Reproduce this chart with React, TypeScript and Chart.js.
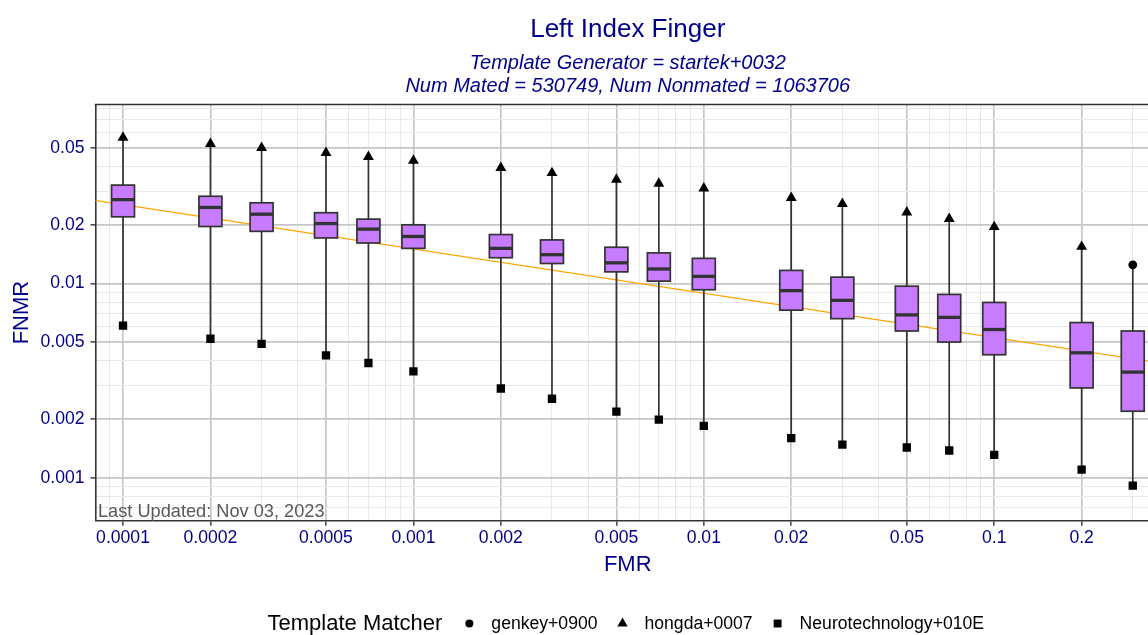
import React, { useEffect, useRef } from 'react';
import { Chart, registerables } from 'chart.js';

Chart.register(...registerables);

const FONT = '"Liberation Sans", Arial, Helvetica, sans-serif';
const BLUE = '#00008B';
const MAJOR_GRID = '#C6C6C6';
const MINOR_GRID = '#E8E8E8';
const DARK = '#333333';
const BOX_FILL = '#C77CFF';

const chartTitle = 'Left Index Finger';
const subtitleLines = ['Template Generator = startek+0032', 'Num Mated = 530749, Num Nonmated = 1063706'];
const xAxisTitle = 'FMR';
const yAxisTitle = 'FNMR';
const footnote = 'Last Updated: Nov 03, 2023';
const legendTitle = 'Template Matcher';
const matchers = ['genkey+0900', 'hongda+0007', 'Neurotechnology+010E'];
const matcherShapes = ['circle', 'triangle', 'rect'];

// Box plot data (FNMR at each FMR operating point)
const fmr = [0.0001, 0.0002, 0.0003, 0.0005, 0.0007, 0.001, 0.002, 0.003, 0.005, 0.007, 0.01, 0.02, 0.03, 0.05, 0.07, 0.1, 0.2, 0.3];
const whiskerHigh = [0.0566, 0.0525, 0.0501, 0.0472, 0.045, 0.0431, 0.0395, 0.0372, 0.0344, 0.0328, 0.031, 0.0277, 0.0258, 0.0233, 0.0216, 0.0196, 0.0155, 0.0125];
const q3 = [0.0322, 0.0282, 0.0261, 0.0232, 0.0215, 0.0201, 0.0179, 0.0168, 0.0154, 0.0144, 0.0135, 0.0117, 0.0108, 0.0097, 0.0088, 0.008, 0.0063, 0.0057];
const median = [0.0271, 0.0247, 0.0228, 0.0204, 0.0191, 0.0175, 0.0152, 0.0141, 0.0128, 0.0119, 0.0109, 0.0092, 0.0082, 0.0069, 0.0067, 0.0058, 0.0044, 0.0035];
const q1 = [0.0221, 0.0197, 0.0186, 0.0172, 0.0162, 0.0152, 0.0136, 0.0127, 0.0115, 0.0103, 0.0093, 0.0073, 0.0066, 0.0057, 0.005, 0.0043, 0.0029, 0.0022];
const whiskerLow = [0.00607, 0.0052, 0.00489, 0.00427, 0.0039, 0.00353, 0.00288, 0.00255, 0.00219, 0.00199, 0.00185, 0.0016, 0.00148, 0.00143, 0.00138, 0.00131, 0.0011, 0.00091];
// index into matchers: which matcher gives the max / min FNMR
const maxMatcher = [1, 1, 1, 1, 1, 1, 1, 1, 1, 1, 1, 1, 1, 1, 1, 1, 1, 0];
const minMatcher = [2, 2, 2, 2, 2, 2, 2, 2, 2, 2, 2, 2, 2, 2, 2, 2, 2, 2];

// Trend line
const trendFmr = [0.00005, 0.5];
const trendFnmr = [0.0299, 0.00365];

const xTickValues = [0.0001, 0.0002, 0.0005, 0.001, 0.002, 0.005, 0.01, 0.02, 0.05, 0.1, 0.2];
const xTickLabels = ['0.0001', '0.0002', '0.0005', '0.001', '0.002', '0.005', '0.01', '0.02', '0.05', '0.1', '0.2'];
const yTickValues = [0.001, 0.002, 0.005, 0.01, 0.02, 0.05];
const yTickLabels = ['0.001', '0.002', '0.005', '0.01', '0.02', '0.05'];

const X_MIN = 8.04e-5;
const X_MAX = 0.3723;
const Y_MIN = 0.000603;
const Y_MAX = 0.0838;
const BOX_HALF_DECADES = 0.0395;

function gridValues(min: number, max: number): number[] {
  const out: number[] = [];
  for (let e = Math.floor(Math.log10(min)); e <= Math.ceil(Math.log10(max)); e++) {
    for (let m = 1; m <= 9; m++) {
      const v = parseFloat((m * Math.pow(10, e)).toPrecision(6));
      if (v > min && v < max) out.push(v);
    }
  }
  return out;
}

function majorIndex(v: number | undefined, list: number[]): number {
  if (v === undefined || v === null) return -1;
  for (let i = 0; i < list.length; i++) {
    if (Math.abs(Math.log10(v) - Math.log10(list[i])) < 1e-6) return i;
  }
  return -1;
}

const boxPlugin = {
  id: 'boxes',
  afterDatasetDraw(chart: any, args: any) {
    if (args.index !== 0) return;
    const { ctx, scales } = chart;
    const xs = scales.x;
    const ys = scales.y;
    ctx.save();
    for (let i = 0; i < fmr.length; i++) {
      const cx = xs.getPixelForValue(fmr[i]);
      const l = xs.getPixelForValue(fmr[i] / Math.pow(10, BOX_HALF_DECADES));
      const r = xs.getPixelForValue(fmr[i] * Math.pow(10, BOX_HALF_DECADES));
      const yHi = ys.getPixelForValue(whiskerHigh[i]);
      const yLo = ys.getPixelForValue(whiskerLow[i]);
      const yQ3 = ys.getPixelForValue(q3[i]);
      const yQ1 = ys.getPixelForValue(q1[i]);
      const yMed = ys.getPixelForValue(median[i]);
      ctx.strokeStyle = DARK;
      ctx.lineWidth = 1.7;
      ctx.beginPath();
      ctx.moveTo(cx, yHi);
      ctx.lineTo(cx, yLo);
      ctx.stroke();
      ctx.fillStyle = BOX_FILL;
      ctx.fillRect(l, yQ3, r - l, yQ1 - yQ3);
      ctx.strokeRect(l, yQ3, r - l, yQ1 - yQ3);
      ctx.lineWidth = 3.3;
      ctx.beginPath();
      ctx.moveTo(l, yMed);
      ctx.lineTo(r, yMed);
      ctx.stroke();
    }
    ctx.restore();
  },
};

function drawShape(ctx: CanvasRenderingContext2D, shape: string, x: number, y: number, r: number) {
  ctx.beginPath();
  if (shape === 'circle') {
    ctx.arc(x, y, r, 0, Math.PI * 2);
  } else if (shape === 'triangle') {
    ctx.moveTo(x, y - r);
    ctx.lineTo(x + r * Math.sin((2 * Math.PI) / 3), y + r / 2);
    ctx.lineTo(x - r * Math.sin((2 * Math.PI) / 3), y + r / 2);
    ctx.closePath();
  } else {
    const s = r * Math.SQRT1_2;
    ctx.rect(x - s, y - s, 2 * s, 2 * s);
  }
  ctx.fill();
}

const textPlugin = {
  id: 'texts',
  afterDraw(chart: any) {
    const { ctx, chartArea } = chart;
    const cx = (chartArea.left + chartArea.right) / 2;
    ctx.save();
    // top panel border
    ctx.strokeStyle = DARK;
    ctx.lineWidth = 1.6;
    ctx.beginPath();
    ctx.moveTo(chartArea.left - 0.8, chartArea.top);
    ctx.lineTo(chartArea.right, chartArea.top);
    ctx.stroke();

    ctx.textBaseline = 'alphabetic';
    ctx.fillStyle = BLUE;
    ctx.textAlign = 'center';
    ctx.font = `26px ${FONT}`;
    ctx.fillText(chartTitle, cx, 37);
    ctx.font = `italic 20px ${FONT}`;
    ctx.fillText(subtitleLines[0], cx, 68.5);
    ctx.fillText(subtitleLines[1], cx, 91.5);

    ctx.font = `22px ${FONT}`;
    ctx.fillText(xAxisTitle, cx, 571);
    ctx.save();
    ctx.translate(28, (chartArea.top + chartArea.bottom) / 2);
    ctx.rotate(-Math.PI / 2);
    ctx.fillText(yAxisTitle, 0, 0);
    ctx.restore();

    ctx.textAlign = 'left';
    ctx.fillStyle = '#595959';
    ctx.font = `18.2px ${FONT}`;
    ctx.fillText(footnote, chartArea.left + 2.5, 517);

    // legend
    ctx.fillStyle = '#000000';
    ctx.font = `22px ${FONT}`;
    const tw = ctx.measureText(legendTitle).width;
    ctx.font = `17.6px ${FONT}`;
    const ws = matchers.map((m) => ctx.measureText(m).width);
    const gapTitle = 27;
    const gapMarker = 22;
    const gapItem = 25;
    let total = tw + gapTitle;
    ws.forEach((w, i) => {
      total += gapMarker + w + (i < ws.length - 1 ? gapItem : 0);
    });
    let x = cx - total / 2 - 2;
    const ly = 630;
    ctx.font = `22px ${FONT}`;
    ctx.fillText(legendTitle, x, ly);
    x += tw + gapTitle;
    ctx.font = `17.6px ${FONT}`;
    const legendR = [4, 6, 5.6];
    matchers.forEach((m, i) => {
      drawShape(ctx, matcherShapes[i], x, 623.5, legendR[i]);
      ctx.fillText(m, x + gapMarker, ly - 1);
      x += gapMarker + ws[i] + gapItem;
    });
    ctx.restore();
  },
};

export default function App() {
  const canvasRef = useRef<HTMLCanvasElement | null>(null);

  useEffect(() => {
    const canvas = canvasRef.current;
    if (!canvas) return;

    const pointRadius = [4.4, 6.3, 5.9];
    const markerSets = matchers.map((name, mi) => {
      const pts: { x: number; y: number }[] = [];
      fmr.forEach((f, i) => {
        if (maxMatcher[i] === mi) pts.push({ x: f, y: whiskerHigh[i] });
        if (minMatcher[i] === mi) pts.push({ x: f, y: whiskerLow[i] });
      });
      return {
        type: 'scatter' as const,
        label: name,
        data: pts,
        pointStyle: matcherShapes[mi],
        pointRadius: pointRadius[mi],
        backgroundColor: '#000000',
        borderColor: '#000000',
        borderWidth: 0,
        showLine: false,
        order: 0,
      };
    });

    const xGrid = gridValues(X_MIN, X_MAX);
    const yGrid = gridValues(Y_MIN, Y_MAX);

    const chart = new Chart(canvas, {
      type: 'scatter',
      data: {
        datasets: [
          {
            type: 'scatter',
            label: 'trend',
            data: trendFmr.map((f, i) => ({ x: f, y: trendFnmr[i] })),
            showLine: true,
            borderColor: '#FFA500',
            borderWidth: 1.3,
            pointRadius: 0,
            order: 10,
          } as any,
          ...markerSets,
        ],
      },
      options: {
        animation: false,
        responsive: false,
        devicePixelRatio: 1,
        events: [],
        layout: { padding: { left: 0, top: 104.5, right: 40, bottom: 84.3 } },
        plugins: {
          legend: { display: false },
          title: { display: false },
          tooltip: { enabled: false },
        },
        scales: {
          x: {
            type: 'logarithmic',
            position: 'bottom',
            min: X_MIN,
            max: X_MAX,
            afterBuildTicks: (s: any) => {
              s.ticks = xGrid.map((v) => ({ value: v }));
            },
            afterFit: (s: any) => {
              s.height = 30;
            },
            border: { display: true, color: DARK, width: 1.6 },
            grid: {
              drawTicks: true,
              tickLength: 5,
              color: (c: any) => (majorIndex(c.tick?.value, xTickValues) >= 0 ? MAJOR_GRID : MINOR_GRID),
              lineWidth: (c: any) => (majorIndex(c.tick?.value, xTickValues) >= 0 ? 1.7 : 1),
              tickColor: (c: any) => (majorIndex(c.tick?.value, xTickValues) >= 0 ? DARK : 'rgba(0,0,0,0)'),
              tickWidth: 1.4,
            },
            ticks: {
              autoSkip: false,
              maxRotation: 0,
              minRotation: 0,
              padding: 2,
              color: BLUE,
              font: { family: FONT, size: 17.6 },
              callback: (v: any) => {
                const k = majorIndex(Number(v), xTickValues);
                return k >= 0 ? xTickLabels[k] : '';
              },
            },
          },
          y: {
            type: 'logarithmic',
            position: 'left',
            min: Y_MIN,
            max: Y_MAX,
            afterBuildTicks: (s: any) => {
              s.ticks = yGrid.map((v) => ({ value: v }));
            },
            afterFit: (s: any) => {
              s.width = 95.5;
            },
            border: { display: true, color: DARK, width: 1.6 },
            grid: {
              drawTicks: true,
              tickLength: 5,
              color: (c: any) => (majorIndex(c.tick?.value, yTickValues) >= 0 ? MAJOR_GRID : MINOR_GRID),
              lineWidth: (c: any) => (majorIndex(c.tick?.value, yTickValues) >= 0 ? 1.7 : 1),
              tickColor: (c: any) => (majorIndex(c.tick?.value, yTickValues) >= 0 ? DARK : 'rgba(0,0,0,0)'),
              tickWidth: 1.4,
            },
            ticks: {
              autoSkip: false,
              padding: 6,
              color: BLUE,
              font: { family: FONT, size: 17.6 },
              callback: (v: any) => {
                const k = majorIndex(Number(v), yTickValues);
                return k >= 0 ? yTickLabels[k] : '';
              },
            },
          },
        },
      } as any,
      plugins: [boxPlugin, textPlugin],
    });

    return () => {
      chart.destroy();
    };
  }, []);

  return (
    <div style={{ position: 'fixed', left: 0, top: 0, width: '1148px', height: '635px', overflow: 'hidden', background: '#ffffff' }}>
      <div style={{ width: '1200px', height: '635px', position: 'relative' }}>
        <canvas ref={canvasRef} width={1200} height={635} style={{ width: '1200px', height: '635px', display: 'block' }} />
      </div>
    </div>
  );
}
